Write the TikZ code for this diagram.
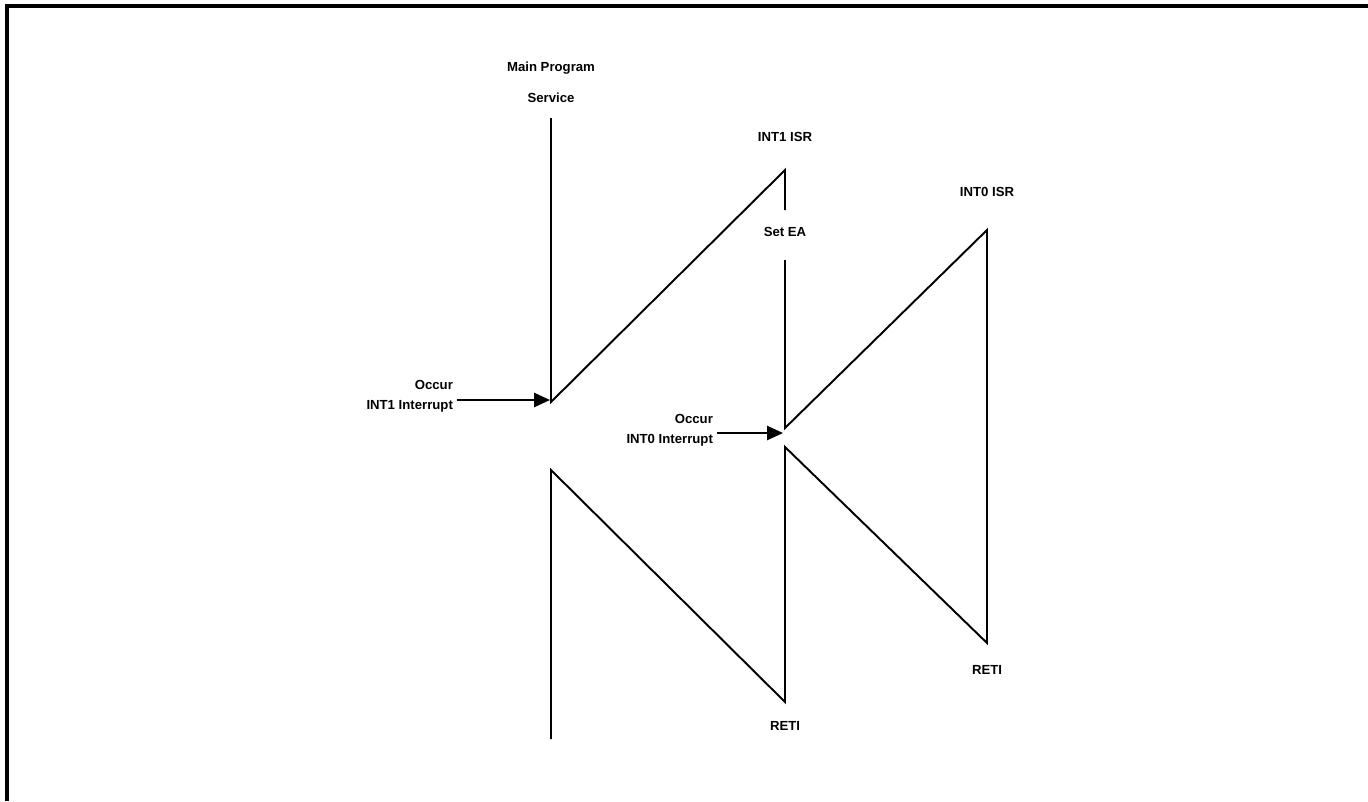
\documentclass[tikz,border=0pt]{standalone}
\usepackage{fontspec}
\setmainfont{Liberation Sans}
\usetikzlibrary{arrows.meta}

\begin{document}
\begin{tikzpicture}[x=0.02cm,y=-0.02cm,
  lbl/.style={font=\fontsize{7.5}{11.5}\selectfont\bfseries,
              align=center,inner sep=1pt},
  flow/.style={line width=1.1pt},
  arr/.style={line width=1.1pt,-{Triangle[length=9pt,width=8pt]}}]
  \useasboundingbox (0,0) rectangle (1368,801);
  \draw[line width=2pt] (7,801) -- (7,6) -- (1368,6);
  % corners of the program flow
  \coordinate (m0) at (551,118);
  \coordinate (m1) at (551,402);
  \coordinate (i1) at (785,170);
  \coordinate (i1a) at (785,210);
  \coordinate (i1b) at (785,260);
  \coordinate (i1c) at (785,428);
  \coordinate (i0) at (987,230);
  \coordinate (i0r) at (987,643);
  \coordinate (i0s) at (785,447);
  \coordinate (r1) at (785,702);
  \coordinate (m2) at (551,470);
  \coordinate (m3) at (551,739);
  \coordinate (a1) at (550,400);
  \coordinate (a0) at (783,433);
  \draw[flow] (m0) -- (m1) -- (i1) -- (i1a);
  \draw[flow] (i1b) -- (i1c) -- (i0) -- (i0r) -- (i0s) -- (r1) -- (m2) -- (m3);
  % labels
  \node[lbl] (main) at (551,68) {Main Program};
  \node[lbl] (serv) at (551,98) {Service};
  \node[lbl] (isr1) at (785,137) {INT1 ISR};
  \node[lbl] (seta) at (785,232) {Set EA};
  \node[lbl] (isr0) at (987,192) {INT0 ISR};
  \node[lbl] (reti1) at (785,726) {RETI};
  \node[lbl] (reti0) at (987,670) {RETI};
  \node[lbl,align=right,anchor=east] (occ1) at (455,396)
        {Occur\\INT1 Interrupt};
  \node[lbl,align=right,anchor=east] (occ0) at (715,430)
        {Occur\\INT0 Interrupt};
  \draw[arr] (occ1.east |- a1) ++(2,0) -- (a1);
  \draw[arr] (occ0.east |- a0) ++(2,0) -- (a0);
\end{tikzpicture}
\end{document}
